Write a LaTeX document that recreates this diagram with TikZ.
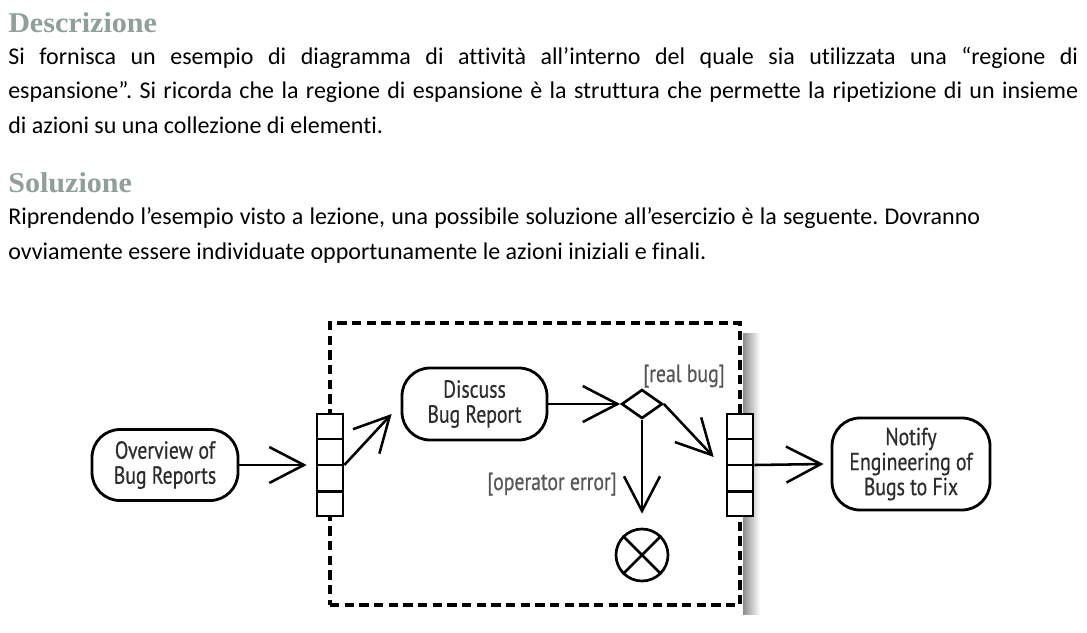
\documentclass[tikz,border=0pt]{standalone}
\usepackage{fontspec}
\setmainfont{Carlito}[Ligatures=NoCommon]
\newfontfamily\headfont{Liberation Serif}[FakeStretch=1.05]
\newfontfamily\diagfont{PT Sans}[FakeStretch=0.8,FakeBold=0.6]
\usetikzlibrary{arrows.meta,shapes.geometric,calc}
\definecolor{headcol}{RGB}{143,160,153}
\definecolor{txtgray}{RGB}{45,45,45}
\frenchspacing
\begin{document}
\begin{tikzpicture}[x=0.75pt,y=-0.75pt,
  body/.style={anchor=base west,inner sep=0,font=\fontsize{18}{22}\selectfont},
  head/.style={anchor=base west,inner sep=0,font=\headfont\bfseries\fontsize{21.5}{25}\selectfont,text=headcol},
  action/.style={draw,line width=2.1pt,rounded corners=21pt,align=center,inner sep=0,font=\diagfont\fontsize{18.5}{18.75}\selectfont,text=txtgray},
  pinbox/.style={draw,line width=2pt,fill=white,minimum width=19.5pt,minimum height=76.5pt,inner sep=0},
  arr/.style={line width=1.9pt,-{Straight Barb[length=26pt,width=27pt]}},
  guard/.style={inner sep=0,font=\diagfont\fontsize{18.5}{18.75}\selectfont,text=txtgray!80}]
\useasboundingbox (0,0) rectangle (1087,632);
% text
\node[head] (h1) at (8,32) {Descrizione};
\node[body] (l1) at (8,64) {\makebox[802.5pt][s]{Si fornisca un esempio di diagramma di attività all’interno del quale sia utilizzata una “regione di}};
\node[body] (l2) at (8,98.5) {\makebox[802.5pt][s]{espansione”. Si ricorda che la regione di espansione è la struttura che permette la ripetizione di un insieme}};
\node[body] (l3) at (8,133) {di azioni su una collezione di elementi.};
\node[head] (h2) at (8,192) {Soluzione};
\node[body] (l4) at (8,224.5) {\makebox[729pt][s]{Riprendendo l’esempio visto a lezione, una possibile soluzione all’esercizio è la seguente. Dovranno}};
\node[body] (l5) at (8,259) {ovviamente essere individuate opportunamente le azioni iniziali e finali.};
% diagram
\shade[left color=black!45,right color=white] (743,333) rectangle (760,614);
\node[draw,line width=2.4pt,dash pattern=on 7pt off 4pt,minimum width=307.5pt,minimum height=211.5pt,inner sep=0] (region) at (535,464) {};
\node[pinbox] (pinL) at (330,465) {};
\node[pinbox] (pinR) at (740,465) {};
\foreach \p in {pinL,pinR}{
  \foreach \f in {0.25,0.5,0.75}{
    \draw[line width=2pt] ($(\p.north west)!\f!(\p.south west)$) -- ($(\p.north east)!\f!(\p.south east)$);
  }
}
\node[action,minimum width=109.5pt,minimum height=53.25pt] (overview) at (165,465) {Overview of\\Bug Reports};
\node[action,minimum width=108.75pt,minimum height=54pt] (discuss) at (474.5,404) {Discuss\\Bug Report};
\node[action,minimum width=118.5pt,minimum height=69pt] (notify) at (911,464) {Notify\\Engineering of\\Bugs to Fix};
\node[draw,diamond,line width=2pt,minimum width=30.75pt,minimum height=21.75pt,inner sep=0] (dec) at (642,404) {};
\node[draw,circle,line width=2pt,minimum size=39pt,inner sep=0] (final) at (642,555) {};
\draw[line width=2pt] (final.45) -- (final.225) (final.135) -- (final.315);
\node[guard,anchor=base west] (g1) at (643,382) {[real bug]};
\node[guard,anchor=base east] (g2) at (617,490) {[operator error]};
\draw[arr] (overview.east) -- ([shift={(-9,0)}]pinL.west);
\draw[arr] (pinL.east) -- ([shift={(-9,10)}]discuss.west);
\draw[arr] (discuss.east) -- (dec.west);
\draw[arr] (dec.east) -- ([shift={(-12,-8)}]pinR.west);
\draw[arr] (dec.south) -- ([shift={(0,-14)}]final.north);
\draw[arr] (pinR.east) -- ([shift={(-7,0)}]notify.west);
\end{tikzpicture}
\end{document}
